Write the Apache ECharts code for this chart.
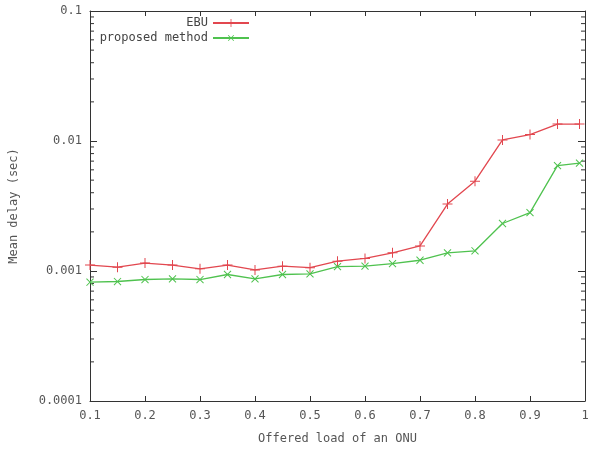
<!DOCTYPE html>
<html>
<head>
<meta charset="utf-8">
<script src="https://cdn.jsdelivr.net/npm/echarts@6/dist/echarts.min.js"></script>
<style>
  html, body { margin: 0; padding: 0; background: #fff; }
  #chart { width: 597px; height: 470px; }
</style>
</head>
<body>
<div id="chart"></div>
<script>
// offered load of an ONU
const loads = [0.1, 0.15, 0.2, 0.25, 0.3, 0.35, 0.4, 0.45, 0.5, 0.55,
    0.6, 0.65, 0.7, 0.75, 0.8, 0.85, 0.9, 0.95, 0.99];
// mean delay (sec)
const ebuDelay = [0.00111, 0.00107, 0.00115, 0.00111, 0.00104, 0.00111, 0.00102, 0.00109, 0.00106, 0.00119,
    0.00125, 0.00138, 0.00156, 0.00327, 0.00491, 0.0102, 0.0112, 0.0135, 0.0135];
const proposedDelay = [0.00082, 0.00083, 0.00086, 0.00087, 0.00086, 0.00094, 0.00087, 0.00094, 0.00095, 0.00108,
    0.00109, 0.00114, 0.00121, 0.00138, 0.00143, 0.00232, 0.00281, 0.00647, 0.00676];
const seriesNames = ['EBU', 'proposed method'];
const yTicks = [0.0001, 0.001, 0.01, 0.1];

const FONT = '"DejaVu Sans Mono", "Liberation Mono", monospace';
const TEXT = '#555';
const AXIS = '#333';

// log minor ticks 2..9 in each decade
const minorTicks = [];
for (let d = 0; d < yTicks.length - 1; d++) {
    for (let m = 2; m <= 9; m++) {
        minorTicks.push(yTicks[d] * m);
    }
}

const plus = 'path://M0,4.5 H10 V5.5 H0 Z M4.5,0 H5.5 V10 H4.5 Z';

function makeLine(name, values, color, rotate) {
    return {
        name: name,
        type: 'line',
        data: loads.map(function (x, i) { return [x, values[i]]; }),
        symbol: plus,
        symbolSize: 10,
        symbolRotate: rotate,
        itemStyle: { color: color },
        lineStyle: { color: color, width: 1.3 },
        emphasis: { disabled: true },
        z: 3
    };
}

const chart = echarts.init(document.getElementById('chart'));
chart.setOption({
    animation: false,
    grid: { left: 90, right: 12, top: 11, bottom: 69 },
    legend: {
        data: seriesNames,
        orient: 'vertical',
        right: 342,
        top: 12,
        align: 'right',
        itemWidth: 36,
        itemHeight: 10,
        itemGap: 3,
        textStyle: { fontFamily: FONT, fontSize: 12, color: '#444' }
    },
    xAxis: [{
        type: 'value',
        min: 0.1,
        max: 1,
        interval: 0.1,
        name: 'Offered load of an ONU',
        nameLocation: 'middle',
        nameGap: 32,
        nameTextStyle: { fontFamily: FONT, fontSize: 12, color: TEXT },
        axisLine: { lineStyle: { color: AXIS, width: 1 } },
        axisTick: { inside: true, length: 5, lineStyle: { color: AXIS } },
        axisLabel: {
            fontFamily: FONT, fontSize: 12, color: TEXT, margin: 9,
            formatter: function (v) { return String(+v.toFixed(1)); }
        },
        splitLine: { show: false }
    }, {
        type: 'value',
        position: 'top',
        min: 0.1,
        max: 1,
        interval: 0.1,
        axisLine: { lineStyle: { color: AXIS, width: 1 } },
        axisTick: { inside: true, length: 5, lineStyle: { color: AXIS } },
        axisLabel: { show: false },
        splitLine: { show: false }
    }],
    yAxis: [{
        type: 'log',
        logBase: 10,
        min: yTicks[0],
        max: yTicks[yTicks.length - 1],
        name: 'Mean delay (sec)',
        nameLocation: 'middle',
        nameGap: 70,
        nameTextStyle: { fontFamily: FONT, fontSize: 12, color: TEXT },
        axisLine: { show: true, lineStyle: { color: AXIS, width: 1 } },
        axisTick: { inside: true, length: 7, lineStyle: { color: AXIS } },
        axisLabel: {
            fontFamily: FONT, fontSize: 12, color: TEXT, margin: 8,
            formatter: function (v) { return String(Number(v.toPrecision(1))); }
        },
        splitLine: { show: false }
    }, {
        type: 'log',
        logBase: 10,
        position: 'right',
        min: yTicks[0],
        max: yTicks[yTicks.length - 1],
        axisLine: { show: true, lineStyle: { color: AXIS, width: 1 } },
        axisTick: { inside: true, length: 7, lineStyle: { color: AXIS } },
        axisLabel: { show: false },
        splitLine: { show: false }
    }],
    series: [
        makeLine(seriesNames[0], ebuDelay, '#e2474f', 0),
        makeLine(seriesNames[1], proposedDelay, '#4fc24f', 45),
        {
            type: 'custom',
            silent: true,
            clip: false,
            data: minorTicks,
            encode: { y: 0 },
            renderItem: function (params, api) {
                const v = api.value(0);
                const l = api.coord([0.1, v]);
                const r = api.coord([1, v]);
                const style = { stroke: AXIS, lineWidth: 1 };
                return {
                    type: 'group',
                    children: [
                        { type: 'line', shape: { x1: l[0], y1: l[1], x2: l[0] + 4, y2: l[1] }, style: style },
                        { type: 'line', shape: { x1: r[0] - 4, y1: r[1], x2: r[0], y2: r[1] }, style: style }
                    ]
                };
            }
        }
    ]
});
</script>
</body>
</html>
